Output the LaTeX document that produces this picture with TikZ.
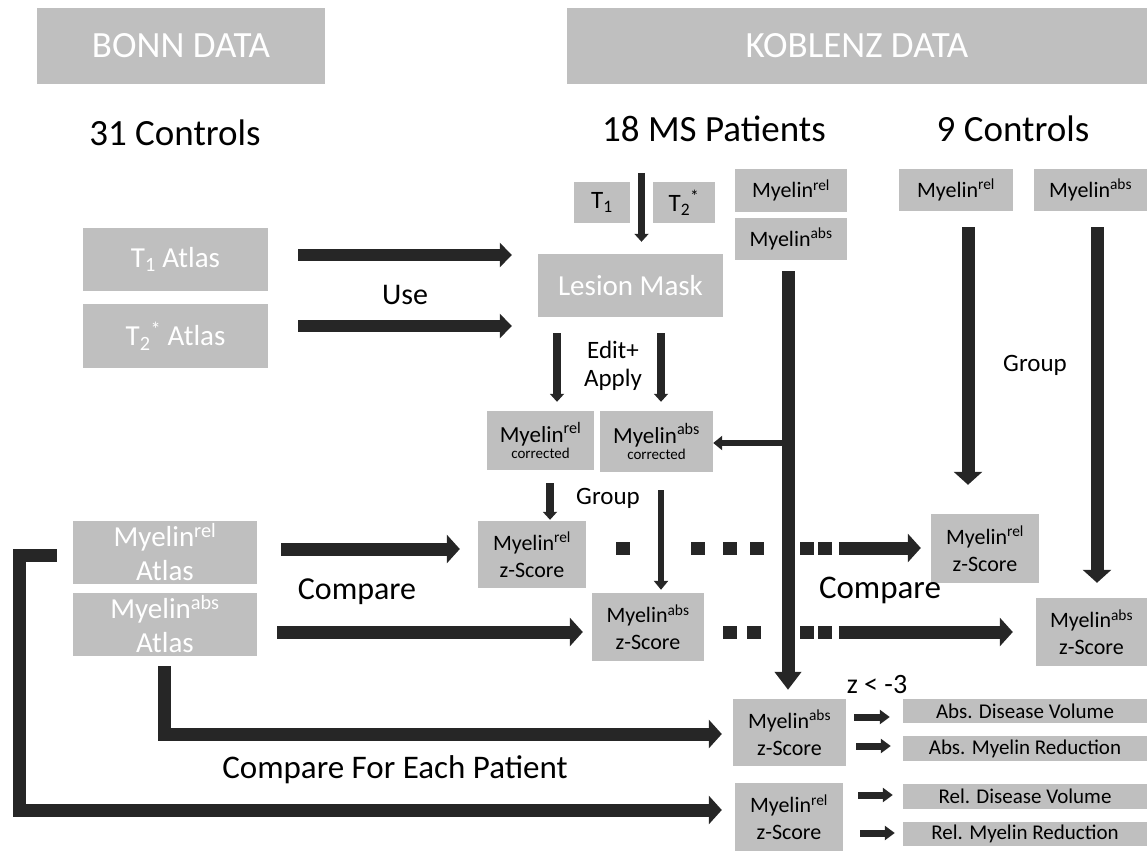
\documentclass[tikz,border=0pt]{standalone}
\usepackage{fontspec}
\setmainfont{Carlito}
\usetikzlibrary{arrows.meta,calc}
\definecolor{boxgray}{RGB}{191,191,191}
\definecolor{ink}{RGB}{38,38,38}

\begin{document}
\begin{tikzpicture}[x=1pt,y=-1pt,
  gbox/.style={fill=boxgray, draw=none, inner sep=0pt, align=center},
  wbox/.style={gbox, text=white},
  kbox/.style={gbox, text=black},
  head/.style={inner sep=0pt, text=black, font=\fontsize{37}{44}\selectfont},
  lbl/.style={inner sep=0pt, text=black, align=center},
  big/.style={draw=ink, line width=13pt, -{Triangle[length=13pt,width=28pt]}},
  use/.style={draw=ink, line width=12pt, -{Triangle[length=12pt,width=24pt]}},
  mid/.style={draw=ink, line width=7.5pt, -{Triangle[length=8pt,width=14pt]}},
  thin/.style={draw=ink, line width=6pt, -{Triangle[length=9pt,width=14pt]}},
  small/.style={draw=ink, line width=7pt, -{Triangle[length=10pt,width=14pt]}},
  sq/.style={fill=ink},
  fz/.style={font=\fontsize{22}{27}\selectfont},
  fatlas/.style={font=\fontsize{29}{34}\selectfont},
  fres/.style={font=\fontsize{21}{25}\selectfont},
]
\useasboundingbox (0,0) rectangle (1147,851);

% ---- header bars and group headings
\node[wbox, minimum width=288pt, minimum height=76pt, font=\fontsize{37}{44}\selectfont] (bonn) at (181,46) {BONN DATA};
\node[wbox, minimum width=580pt, minimum height=76pt, font=\fontsize{37}{44}\selectfont] (koblenz) at (857,46) {KOBLENZ DATA};
\node[head, anchor=base] (bonnctl) at (175,145) {31 Controls};
\node[head, anchor=base] (patients) at (714,141) {18 MS Patients};
\node[head, anchor=base] (kobctl) at (1013,141) {9 Controls};

% ---- Bonn atlases
\node[wbox, fatlas, minimum width=185pt, minimum height=63pt] (t1atlas) at (175.5,259.5) {T\textsubscript{1} Atlas};
\node[wbox, fatlas, minimum width=185pt, minimum height=64pt] (t2atlas) at (175.5,336) {T\textsubscript{2}\textsuperscript{*} Atlas};
\node[wbox, fatlas, minimum width=184pt, minimum height=63pt] (relatlas) at (165,552.5) {Myelin\textsuperscript{rel}\\Atlas};
\node[wbox, fatlas, minimum width=184pt, minimum height=63pt] (absatlas) at (165,624.5) {Myelin\textsuperscript{abs}\\Atlas};

% ---- patient inputs
\node[kbox, minimum width=56pt, minimum height=41pt, font=\fontsize{25}{30}\selectfont] (t1s) at (602,202.5) {T\textsubscript{1}};
\node[kbox, minimum width=62pt, minimum height=41pt, font=\fontsize{25}{30}\selectfont] (t2s) at (684,202.5) {T\textsubscript{2}\textsuperscript{*}};
\node[wbox, minimum width=185pt, minimum height=63pt, font=\fontsize{29}{34}\selectfont] (lesion) at (630.5,285.5) {Lesion Mask};
\node[kbox, fz, minimum width=112pt, minimum height=43pt] (myrelP) at (791,190.5) {Myelin\textsuperscript{rel}};
\node[kbox, fz, minimum width=112pt, minimum height=42pt] (myabsP) at (791,239) {Myelin\textsuperscript{abs}};

% ---- Koblenz control inputs
\node[kbox, fz, minimum width=114pt, minimum height=42pt] (myrelC) at (956,190) {Myelin\textsuperscript{rel}};
\node[kbox, fz, minimum width=113pt, minimum height=42pt] (myabsC) at (1090.5,190) {Myelin\textsuperscript{abs}};

% ---- corrected maps
\node[kbox, minimum width=107pt, minimum height=59pt] (relcorr) at (540.5,440.5)
  {\fontsize{23}{21}\selectfont Myelin\textsuperscript{rel}\\{\fontsize{15}{18}\selectfont corrected}};
\node[kbox, minimum width=113pt, minimum height=61pt] (abscorr) at (656.5,441.5)
  {\fontsize{23}{21}\selectfont Myelin\textsuperscript{abs}\\{\fontsize{15}{18}\selectfont corrected}};

% ---- z-score maps
\node[kbox, fz, minimum width=108pt, minimum height=67pt] (relzM) at (532,554.5) {Myelin\textsuperscript{rel}\\z-Score};
\node[kbox, fz, minimum width=112pt, minimum height=68pt] (abszM) at (648,627) {Myelin\textsuperscript{abs}\\z-Score};
\node[kbox, fz, minimum width=108pt, minimum height=69pt] (relzC) at (985,548.5) {Myelin\textsuperscript{rel}\\z-Score};
\node[kbox, fz, minimum width=111pt, minimum height=68pt] (abszC) at (1091.5,632) {Myelin\textsuperscript{abs}\\z-Score};
\node[kbox, fz, minimum width=113pt, minimum height=67pt] (abszP) at (789.5,732.5) {Myelin\textsuperscript{abs}\\z-Score};
\node[kbox, fz, minimum width=108pt, minimum height=68pt] (relzP) at (789,817) {Myelin\textsuperscript{rel}\\z-Score};

% ---- results
\node[kbox, fres, minimum width=244pt, minimum height=24pt] (res1) at (1025,711) {Abs. Disease Volume};
\node[kbox, fres, minimum width=244pt, minimum height=25pt] (res2) at (1025,748.5) {Abs. Myelin Reduction};
\node[kbox, fres, minimum width=244pt, minimum height=25pt] (res3) at (1025,796.5) {Rel. Disease Volume};
\node[kbox, fres, minimum width=244pt, minimum height=24pt] (res4) at (1025,834) {Rel. Myelin Reduction};

% ---- labels
\node[lbl, font=\fontsize{30}{36}\selectfont] (uselbl) at (405,295) {Use};
\node[lbl, font=\fontsize{25}{28}\selectfont] (editlbl) at (613,366) {Edit+\\Apply};
\node[lbl, font=\fontsize{25}{30}\selectfont] (grpM) at (608,498) {Group};
\node[lbl, font=\fontsize{25}{30}\selectfont] (grpC) at (1035,365) {Group};
\node[lbl, font=\fontsize{32}{38}\selectfont] (cmpL) at (357,592) {Compare};
\node[lbl, font=\fontsize{33}{38}\selectfont] (cmpR) at (880,590) {Compare};
\node[lbl, font=\fontsize{28}{32}\selectfont] (zthr) at (877,685) {z < -3};
\node[lbl, font=\fontsize{33}{38}\selectfont] (cmpEach) at (395,770) {Compare For Each Patient};

% ---- atlases used for the lesion mask
\draw[use] ($(t1atlas.east)+(30,-4.5)$) -- ($(lesion.west |- t1atlas.east)+(-26,-4.5)$);
\draw[use] ($(t2atlas.east)+(30,-10)$) -- ($(lesion.west |- t2atlas.east)+(-26,-10)$);

% ---- lesion mask from T1 / T2*
\coordinate (tgap) at ($(t1s.north east)!0.5!(t2s.north west)$);
\draw[mid] ($(tgap)+(0,-9)$) -- ($(tgap |- lesion.north)+(0,-12)$);

% ---- edit + apply
\draw[mid] ($(relcorr.north |- lesion.south)+(16.5,16)$) -- ($(relcorr.north)+(16.5,-9)$);
\draw[mid] ($(abscorr.north |- lesion.south)+(4.5,16)$) -- ($(abscorr.north)+(4.5,-9)$);

% ---- patient myelin maps down to the per-patient z-score
\draw[big, -{Triangle[length=18pt,width=26pt]}] ($(myabsP.south)+(-3,11)$) -- ($(myabsP.south |- abszP.north)+(-3,-9)$);
\draw[thin] ($(myabsP.south |- abscorr.east)+(-3,1.5)$) -- ($(abscorr.east)+(0,1.5)$);

% ---- grouping of corrected maps
\draw[mid] ($(relcorr.south)+(9.5,13)$) -- ($(relcorr.south |- relzM.north)+(9.5,-1)$);
\draw[thin] ($(abscorr.south)+(4.5,18)$) -- ($(abscorr.south |- abszM.north)+(4.5,-3)$);

% ---- Koblenz controls grouped
\draw[big] ($(myrelC.south)+(12,16)$) -- ($(myrelC.south |- relzC.north)+(12,-29)$);
\draw[big] ($(myabsC.south)+(6.5,16)$) -- ($(myabsC.south |- abszC.north)+(6.5,-15)$);

% ---- group comparison against the Bonn atlases
\draw[big] ($(relatlas.east)+(24,-3.5)$) -- ($(relzM.west |- relatlas.east)+(-18,-3.5)$);
\draw[big] ($(absatlas.east)+(20,7.5)$) -- ($(abszM.west |- absatlas.east)+(-9,7.5)$);

% ---- dotted continuation to the control z-scores
\foreach \x in {623,698,730,757,807,825} \fill[sq] (\x-7,541.5) rectangle (\x+7,554.5);
\foreach \x in {730,754,807,825} \fill[sq] (\x-7,625.5) rectangle (\x+7,638.5);
\draw[big] ($(relzC.west)+(-92,-0.5)$) -- ($(relzC.west)+(-10,-0.5)$);
\draw[big] ($(abszC.west)+(-197,0)$) -- ($(abszC.west)+(-23,0)$);

% ---- per-patient comparison
\draw[big, line join=miter] ($(absatlas.south)+(-1,10)$) |- ($(abszP.west)+(-11,1.5)$);
\draw[big, line join=miter] ($(relatlas.west)+(-16,2.5)$) -- ++(-37,0) |- ($(relzP.west)+(-13,-7)$);

% ---- thresholded outputs
\draw[small] ($(abszP.east |- res1.west)+(8,6)$) -- ($(res1.west)+(-13,6)$);
\draw[small] ($(abszP.east |- res2.west)+(10,-2.5)$) -- ($(res2.west)+(-12,-2.5)$);
\draw[small] ($(relzP.east |- res3.west)+(15,-1.5)$) -- ($(res3.west)+(-10,-1.5)$);
\draw[small] ($(relzP.east |- res4.west)+(17,-1)$) -- ($(res4.west)+(-8,-1)$);
\end{tikzpicture}
\end{document}
